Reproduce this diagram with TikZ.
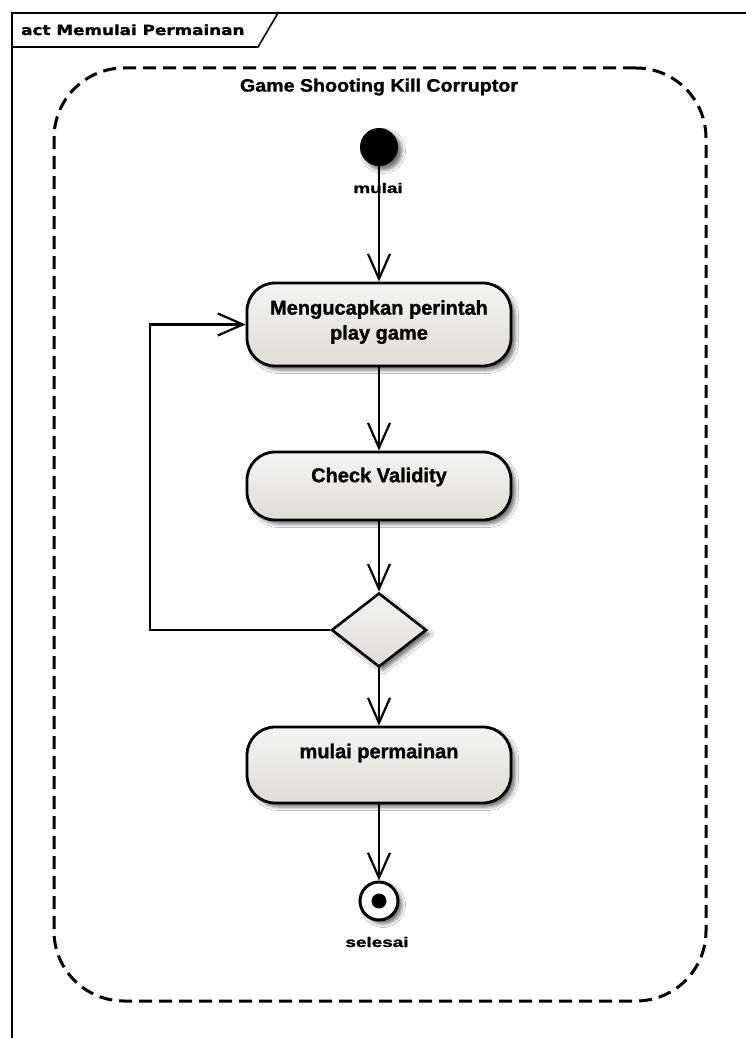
\documentclass[tikz,border=0pt]{standalone}
\usepackage{graphicx}
\usepackage{fontspec}
\setmainfont{Liberation Sans}[BoldFeatures={FakeBold=1.2}]
\newfontfamily\framefont{DejaVu Sans}[BoldFeatures={FakeBold=1.2}]
\usetikzlibrary{arrows.meta,shapes.geometric,shadows.blur}

\definecolor{actTop}{HTML}{F5F3F0}
\definecolor{actBottom}{HTML}{DFDCD6}

\begin{document}
\begin{tikzpicture}[x=1pt,y=-1pt,
  softshadow/.style={blur shadow={shadow xshift=4pt,shadow yshift=-4pt,
      shadow blur radius=3.5pt,shadow opacity=55}},
  act/.style={rectangle,rounded corners=28pt,draw=black,line width=2.8pt,
      top color=actTop,bottom color=actBottom,minimum width=264pt,
      inner sep=0pt,softshadow},
  acttext/.style={font=\bfseries\fontsize{20}{25}\selectfont,align=center,inner sep=0pt},
  smalllabel/.style={font=\bfseries\fontsize{14}{16}\selectfont,inner sep=0pt},
  flow/.style={line width=2.2pt,-{Straight Barb[length=25pt,width=22pt]}},
  region/.style={draw=black,line width=3pt,dash pattern=on 13pt off 7pt,
      rounded corners=70pt,inner sep=0pt}
]
\useasboundingbox (0,0) rectangle (746,1038);
\clip (0,0) rectangle (746,1038);
\fill[white] (0,0) rectangle (746,1038);

% diagram frame with its name tab
\draw[line width=2.5pt] (12,1050) -- (12,13) -- (760,13);
\draw[line width=1.6pt] (12,47) -- (258,47) -- (278,13);
\node[anchor=base west,inner sep=0pt] (frametitle) at (21,35)
  {\framefont\bfseries\fontsize{14}{16}\selectfont\scalebox{1.2}[1]{act Memulai Permainan}};

% structured activity region
\node[region,minimum width=652pt,minimum height=933pt] (regionbox) at (380,534.5) {};
\node[inner sep=0pt,font=\bfseries\fontsize{18}{20}\selectfont] (regiontitle) at (379,87)
  {\scalebox{1.09}[1]{Game Shooting Kill Corruptor}};

% initial node
\node[circle,fill=black,minimum size=38pt,inner sep=0pt,softshadow] (start) at (379,147) {};
\node[smalllabel] (startlabel) at (378,188) {\scalebox{1.35}[1]{mulai}};

% actions
\node[act,minimum height=83pt] (act1) at (379,324.5) {};
\node[acttext] (act1text) at (379,322) {Mengucapkan perintah\\play game};

\node[act,minimum height=68pt] (act2) at (379,486) {};
\node[acttext] (act2text) at (379,477) {Check Validity};

\node[diamond,draw=black,line width=2.6pt,top color=actTop,bottom color=actBottom,
      minimum width=95pt,minimum height=74pt,inner sep=0pt,softshadow] (decision) at (379,630) {};

\node[act,minimum height=76pt] (act3) at (379,765) {};
\node[acttext] (act3text) at (379,753) {mulai permainan};

% final node
\node[circle,draw=black,line width=3pt,fill=white,minimum size=38pt,inner sep=0pt,softshadow] (final) at (379,901) {};
\node[circle,fill=black,minimum size=15pt,inner sep=0pt] (finaldot) at (final) {};
\node[smalllabel] (finallabel) at (377,942) {\scalebox{1.35}[1]{selesai}};

% control flows
\coordinate (loopcorner) at (150,630);
\draw[flow] (start) -- (act1);
\draw[flow] (act1) -- (act2);
\draw[flow] (act2) -- (decision);
\draw[flow] (decision) -- (act3);
\draw[flow] (act3) -- (final);
\draw[flow] (decision.west) -- (loopcorner) |- (act1.west);
\end{tikzpicture}
\end{document}
